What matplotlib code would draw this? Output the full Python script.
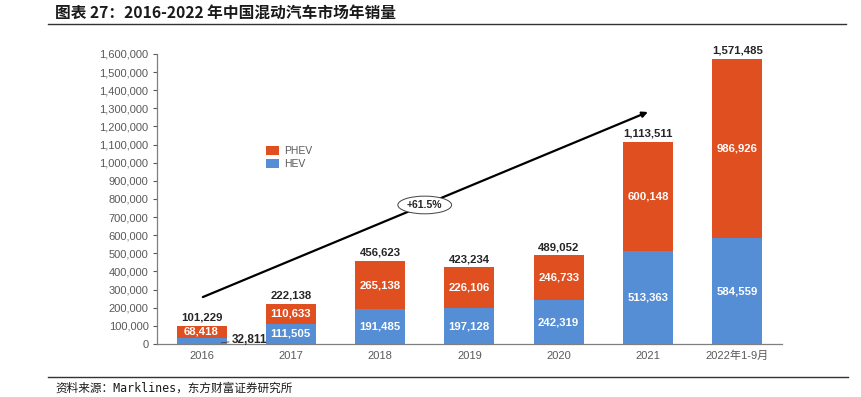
import numpy as np
import matplotlib.pyplot as plt
from matplotlib.lines import Line2D

plt.rcParams['font.family'] = ['Liberation Sans', 'Noto Sans CJK SC', 'DejaVu Sans']

categorias = ['2016', '2017', '2018', '2019', '2020', '2021', '2022年1-9月']
hev = [32811, 111505, 191485, 197128, 242319, 513363, 584559]
phev = [68418, 110633, 265138, 226106, 246733, 600148, 986926]
totales = [101229, 222138, 456623, 423234, 489052, 1113511, 1571485]
crecimiento = '+61.5%'

color_phev = '#DF4F1F'
color_hev = '#558ED5'

fig = plt.figure(figsize=(8.62, 3.97), dpi=100)
ax = fig.add_axes([0.182, 0.1335, 0.725, 0.7305])

x = np.arange(len(categorias))
ancho = 0.56
b_hev = ax.bar(x, hev, ancho, color=color_hev, label='HEV', zorder=2)
b_phev = ax.bar(x, phev, ancho, bottom=hev, color=color_phev, label='PHEV', zorder=2)

# etiquetas dentro de las barras
for i in range(len(x)):
    ax.text(x[i], hev[i] + phev[i] / 2, f'{phev[i]:,}', ha='center', va='center',
            color='white', fontsize=8.2, fontweight='bold', zorder=3)
    if i > 0:
        ax.text(x[i], hev[i] / 2, f'{hev[i]:,}', ha='center', va='center',
                color='white', fontsize=8.2, fontweight='bold', zorder=3)
    ax.text(x[i], totales[i] + 18000, f'{totales[i]:,}', ha='center', va='bottom',
            color='#262626', fontsize=8.2, fontweight='bold', zorder=3)

# etiqueta HEV 2016 fuera de la barra
ax.annotate(f'{hev[0]:,}', xy=(x[0] + 0.22, hev[0] * 0.2), xytext=(x[0] + 0.34, hev[0] * 0.75),
            ha='left', va='center', fontsize=8.5, fontweight='bold', color='#262626',
            arrowprops=dict(arrowstyle='-', color='#404040', lw=0.6, shrinkA=0, shrinkB=0))

# flecha de crecimiento
ax.annotate('', xy=(5.0, 1280000), xytext=(0.015, 259000),
            arrowprops=dict(arrowstyle='-|>', color='black', lw=1.6,
                            mutation_scale=8, shrinkA=0, shrinkB=0), zorder=4)
ax.text(2.5, 767000, crecimiento, ha='center', va='center', fontsize=7.5,
        fontweight='bold', color='#262626', zorder=5,
        bbox=dict(boxstyle='ellipse,pad=0.12', fc='white', ec='#404040', lw=0.7))

ax.set_xlim(-0.5, len(x) - 0.5)
ax.set_ylim(0, 1600000)
ax.set_yticks(np.arange(0, 1600001, 100000))
ax.yaxis.set_major_formatter(plt.FuncFormatter(lambda v, p: f'{int(v):,}'))
ax.set_xticks(x)
ax.set_xticklabels(categorias)
ax.tick_params(axis='y', labelsize=8, colors='#595959', length=3, width=0.8, pad=3)
ax.tick_params(axis='x', labelsize=8, colors='#595959', length=0, pad=5)
for lbl in ax.get_xticklabels() + ax.get_yticklabels():
    lbl.set_family(['Liberation Sans', 'Noto Sans CJK SC'])
for s in ['top', 'right']:
    ax.spines[s].set_visible(False)
for s in ['left', 'bottom']:
    ax.spines[s].set_color('#7f7f7f')
    ax.spines[s].set_linewidth(0.9)

leyenda = ax.legend(handles=[b_phev, b_hev], labels=['PHEV', 'HEV'],
                    loc='upper left', bbox_to_anchor=(0.16, 0.715), frameon=False,
                    fontsize=7.5, handlelength=1.2, handleheight=0.9,
                    handletextpad=0.5, labelspacing=0.3)
for t in leyenda.get_texts():
    t.set_color('#595959')

# titulo, lineas y fuente
fig.text(0.064, 0.968, '图表 27：2016-2022 年中国混动汽车市场年销量', ha='left', va='center',
         fontsize=11.3, fontweight='bold', color='#1a1a1a', family=['Noto Sans CJK SC', 'DejaVu Sans'])
fig.add_artist(Line2D([0.056, 0.982], [0.94, 0.94], color='#333333', lw=1.0))
fig.add_artist(Line2D([0.056, 0.984], [0.05, 0.05], color='#333333', lw=1.0))
fig.text(0.064, 0.022, '资料来源：Marklines，东方财富证券研究所', ha='left', va='center',
         fontsize=8.4, color='#1a1a1a', family=['DejaVu Sans Mono', 'Noto Sans CJK SC'])

fig.savefig('out.png', dpi=100)
